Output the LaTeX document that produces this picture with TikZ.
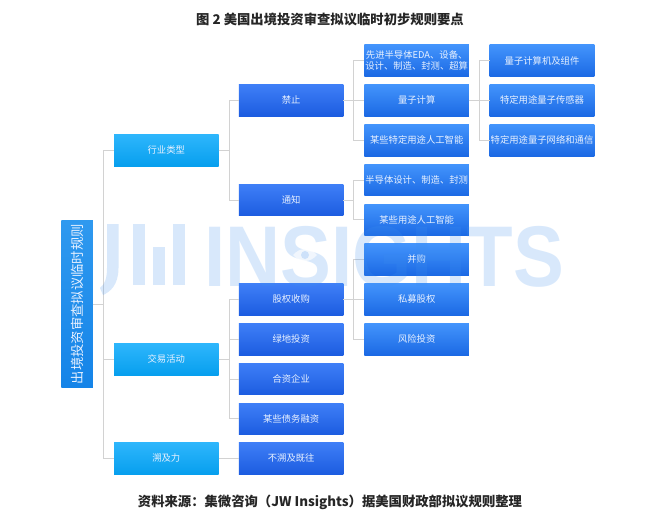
\documentclass[tikz,border=0pt]{standalone}
\usepackage{fontspec}
\setmainfont{Noto Sans CJK SC}
\newfontfamily\wmfont{Liberation Sans}[BoldFont={Liberation Sans Bold}]
\definecolor{wm}{HTML}{3D8FEE}
\definecolor{lineg}{HTML}{D2D2D2}
\definecolor{txtw}{HTML}{E8F1FF}
\tikzset{
  x=0.75pt,y=-0.75pt,
  box/.style={inner sep=0pt,outer sep=0pt,draw=none,text=txtw,align=center,
    font=\fontsize{7}{7.9}\selectfont,text width=78.4pt,minimum width=78.4pt,minimum height=23.7pt},
  rootbox/.style={inner sep=0pt,outer sep=0pt,draw=none,text=txtw,align=center,
    font=\fontsize{10}{12}\selectfont,minimum width=125.2pt,minimum height=23.6pt,rotate=90,
    top color=RB1,bottom color=RB2},
  lone/.style={box,top color=L1a,bottom color=L1b},
  ltwo/.style={box,top color=L2a,bottom color=L2b},
  lthree/.style={box,top color=L3a,bottom color=L3b},
  conn/.style={draw=lineg,line width=0.65pt},
  wmark/.style={fill=wm,fill opacity=0.2,draw=none},
}
\definecolor{RB1}{HTML}{2F99EF}
\definecolor{RB2}{HTML}{1584E8}
\definecolor{L1a}{HTML}{2EB6FC}
\definecolor{L1b}{HTML}{079FEE}
\definecolor{L2a}{HTML}{3F7FF7}
\definecolor{L2b}{HTML}{1C5CE0}
\definecolor{L3a}{HTML}{4394FC}
\definecolor{L3b}{HTML}{1B69E4}
\newcommand{\elbow}[2]{\draw[conn] (#1.east) -- ++(10.4,0) |- (#2.west);}
\newcommand{\rootelbow}[1]{\draw[conn] (root.south) -- ++(10.4,0) |- (#1.west);}
\begin{document}
\begin{tikzpicture}
\useasboundingbox[fill=white] (0,0) rectangle (660,522);

\node[font=\fontsize{10}{12}\selectfont\bfseries,text=black!85] (title) at (330,19.5) {图 2 美国出境投资审查拟议临时初步规则要点};
\node[font=\fontsize{10}{12}\selectfont\bfseries,text=black!85] (source) at (330,502) {资料来源：集微咨询（JW Insights）据美国财政部拟议规则整理};

\node[rootbox] (root) at (77.2,304.3) {出境投资审查拟议临时规则};

\node[lone] (a1) at (166.3,150.2) {行业类型};
\node[lone] (a2) at (166.3,359.2) {交易活动};
\node[lone] (a3) at (166.3,458.2) {溯及力};

\node[ltwo] (b1) at (291.2,100.2) {禁止};
\node[ltwo] (b2) at (291.2,200) {通知};
\node[ltwo] (b3) at (291.2,299.4) {股权收购};
\node[ltwo] (b4) at (291.2,339.2) {绿地投资};
\node[ltwo] (b5) at (291.2,379) {合资企业};
\node[ltwo] (b6) at (291.2,418.8) {某些债务融资};
\node[ltwo] (b7) at (291.2,458.2) {不溯及既往};

\node[lthree] (c1) at (416.7,60.7) {先进半导体EDA、设备、\\设计、制造、封测、超算};
\node[lthree] (c2) at (416.7,100.2) {量子计算};
\node[lthree] (c3) at (416.7,140.2) {某些特定用途人工智能};
\node[lthree] (c4) at (416.7,180) {半导体设计、制造、封测};
\node[lthree] (c5) at (416.7,219.8) {某些用途人工智能};
\node[lthree] (c6) at (416.7,259.4) {并购};
\node[lthree] (c7) at (416.7,299.4) {私募股权};
\node[lthree] (c8) at (416.7,339.2) {风险投资};

\node[lthree] (d1) at (542,60.7) {量子计算机及组件};
\node[lthree] (d2) at (542,100.2) {特定用途量子传感器};
\node[lthree] (d3) at (542,140.2) {特定用途量子网络和通信};

\rootelbow{a1}\rootelbow{a2}\rootelbow{a3}
\elbow{a1}{b1}\elbow{a1}{b2}
\elbow{a2}{b3}\elbow{a2}{b4}\elbow{a2}{b5}\elbow{a2}{b6}
\elbow{a3}{b7}
\elbow{b1}{c1}\elbow{b1}{c2}\elbow{b1}{c3}
\elbow{b2}{c4}\elbow{b2}{c5}
\elbow{b3}{c6}\elbow{b3}{c7}\elbow{b3}{c8}
\elbow{c2}{d1}\elbow{c2}{d2}\elbow{c2}{d3}

% watermark
\fill[wmark] (107,224) -- (118.5,224) -- (118.5,268) .. controls (118.5,285) and (110,292) .. (103,295) -- (100,288) .. controls (105,284) and (107,278) .. (107,268) -- cycle;
\fill[wmark] (133,224) rectangle (145,285);
\fill[wmark] (153,247) rectangle (165,285);
\fill[wmark] (173,224) rectangle (185,285);
\node[anchor=base west,inner sep=0pt,text=wm,text opacity=0.2,xscale=0.885,
  font=\wmfont\bfseries\fontsize{64.6}{64.6}\selectfont] (wmtext) at (204,286) {INSIGHTS};
\fill[white,fill opacity=0.65] (293,255) .. controls (300,247) and (310,247) .. (317,255) .. controls (310,263) and (300,263) .. (293,255) -- cycle;
\fill[wm,fill opacity=0.2] (305,255) circle (4);
\end{tikzpicture}
\end{document}
